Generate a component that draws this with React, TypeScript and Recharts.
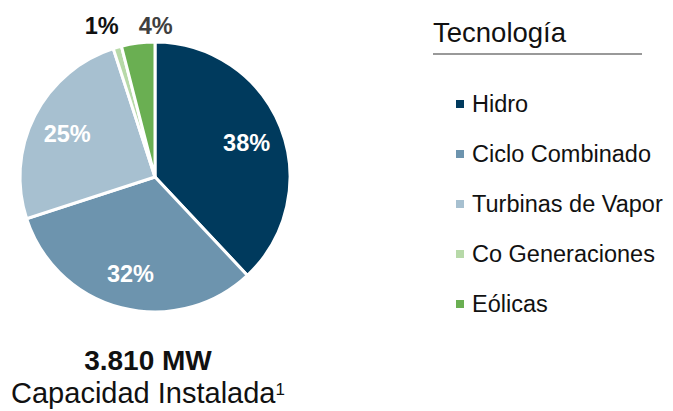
import { PieChart, Pie, Cell, Legend } from 'recharts';

const categories = ['Hidro', 'Ciclo Combinado', 'Turbinas de Vapor', 'Co Generaciones', 'Eólicas'];
const shares = [38, 32, 25, 1, 4];
const sliceColors = ['#003a5d', '#6d94ae', '#a7c0d0', '#b7d9a8', '#6aaf52'];
const outsideLabelColors = ['#fff', '#fff', '#fff', '#111', '#404040'];

const legendTitle = 'Tecnología';
const totalCapacity = '3.810 MW';
const capacityCaption = 'Capacidad Instalada';

const pieData = categories.map((name, i) => ({ name, value: shares[i] }));

const FONT = '"Liberation Sans", Arial, sans-serif';
const RAD = Math.PI / 180;

const renderLabel = (props: any) => {
  const { cx, cy, midAngle, outerRadius, index, value } = props;
  const small = value < 5;
  const r = small ? outerRadius - 5 : outerRadius * 0.73;
  const x = cx + r * Math.cos(-midAngle * RAD);
  const y = small ? cy - outerRadius - 16 : cy + r * Math.sin(-midAngle * RAD) + 2;
  let anchor: 'middle' | 'end' | 'start' = 'middle';
  if (small) anchor = value < 2 ? 'end' : 'start';
  return (
    <text
      x={x}
      y={y}
      fill={outsideLabelColors[index]}
      textAnchor={anchor}
      dominantBaseline="central"
      fontFamily={FONT}
      fontWeight="bold"
      fontSize={23.5}
    >
      {`${value}%`}
    </text>
  );
};

const renderLegend = () => (
  <div style={{ fontFamily: FONT, color: '#111' }}>
    <div
      style={{
        fontSize: 27.5,
        marginLeft: 13,
        width: 209,
        height: 41,
        lineHeight: '41px',
        borderBottom: '2px solid #999',
      }}
    >
      {legendTitle}
    </div>
    <div style={{ marginTop: 24 }}>
      {categories.map((name, i) => (
        <div key={name} style={{ display: 'flex', alignItems: 'center', height: 50 }}>
          <span
            style={{
              display: 'inline-block',
              width: 8,
              height: 8,
              marginLeft: 36,
              marginRight: 8,
              background: sliceColors[i],
            }}
          />
          <span style={{ fontSize: 23.5 }}>{name}</span>
        </div>
      ))}
    </div>
  </div>
);

export default function App() {
  return (
    <div style={{ position: 'absolute', left: 0, top: 0, width: 673, height: 411, background: '#fff' }}>
      <PieChart width={673} height={411} margin={{ top: 0, right: 0, bottom: 0, left: 0 }}>
        <Pie
          data={pieData}
          dataKey="value"
          nameKey="name"
          cx={155}
          cy={177}
          outerRadius={135}
          startAngle={90}
          endAngle={-270}
          stroke="#fff"
          strokeWidth={3}
          label={renderLabel}
          labelLine={false}
          isAnimationActive={false}
        >
          {pieData.map((entry, i) => (
            <Cell key={entry.name} fill={sliceColors[i]} />
          ))}
        </Pie>
        <Legend
          content={renderLegend}
          wrapperStyle={{ position: 'absolute', left: 420, top: 12, width: 253 }}
        />
      </PieChart>
      <div
        style={{
          position: 'absolute',
          left: 0,
          top: 344,
          width: 296,
          textAlign: 'center',
          fontFamily: FONT,
          color: '#111',
          lineHeight: '33px',
        }}
      >
        <div style={{ fontSize: 28, fontWeight: 'bold' }}>{totalCapacity}</div>
        <div style={{ fontSize: 29 }}>
          {capacityCaption}
          <sup style={{ fontSize: 17, verticalAlign: 'top', lineHeight: '26px' }}>1</sup>
        </div>
      </div>
    </div>
  );
}
